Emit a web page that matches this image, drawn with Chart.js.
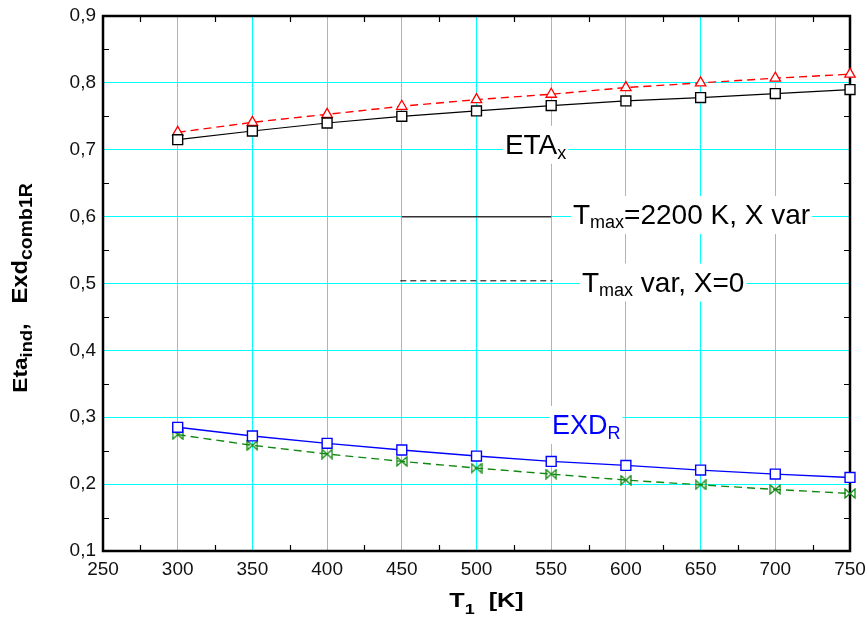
<!DOCTYPE html>
<html lang="en">
<head>
    <meta charset="utf-8">
    <title>Eta / Exd vs T1</title>
    <style>
      * { margin: 0; padding: 0; }
      body { background: #fff; }
      .chartBox { width: 865px; height: 617px; }
    </style>
</head>
<body>
    <div class="chartBox">
      <canvas id="etaChart" width="865" height="617"></canvas>
    </div>
    <script src="https://cdn.jsdelivr.net/npm/chart.js/dist/chart.umd.min.js"></script>
    <script>
        // T1 [K] values and the four curves
        const t1Values = [300, 350, 400, 450, 500, 550, 600, 650, 700, 750];
        const etaXvar = [0.715, 0.728, 0.740, 0.750, 0.758, 0.766, 0.773, 0.778, 0.784, 0.790];
        const etaTvar = [0.726, 0.741, 0.753, 0.765, 0.775, 0.783, 0.793, 0.800, 0.807, 0.813];
        const exdXvar = [0.285, 0.272, 0.261, 0.251, 0.242, 0.234, 0.228, 0.221, 0.215, 0.210];
        const exdTvar = [0.274, 0.258, 0.245, 0.234, 0.224, 0.215, 0.206, 0.199, 0.192, 0.186];

        const FONT = '"Liberation Sans", Arial, sans-serif';

        function toPoints(ys) {
            return t1Values.map((x, i) => ({ x: x, y: ys[i] }));
        }

        // bowtie marker (⋈) for the green curve
        function bowtie(color) {
            const c = document.createElement('canvas');
            c.width = 12; c.height = 11;
            const g = c.getContext('2d');
            g.strokeStyle = color;
            g.lineWidth = 1.3;
            g.beginPath();
            g.moveTo(1, 1); g.lineTo(11, 10); g.lineTo(11, 1); g.lineTo(1, 10);
            g.closePath();
            g.stroke();
            return c;
        }

        // text with subscripts: parts = [{text, size, dy}]
        function richWidth(ctx, parts, bold, sx) {
            let w = 0;
            parts.forEach(p => {
                ctx.font = (bold ? 'bold ' : '') + p.size + 'px ' + FONT;
                w += ctx.measureText(p.text).width;
            });
            return w * (sx || 1);
        }
        function drawRich(ctx, parts, x, y, color, bold, sx) {
            ctx.save();
            ctx.translate(x, y);
            ctx.scale(sx || 1, 1);
            ctx.fillStyle = color;
            ctx.textAlign = 'left';
            ctx.textBaseline = 'alphabetic';
            let cx = 0;
            parts.forEach(p => {
                ctx.font = (bold ? 'bold ' : '') + p.size + 'px ' + FONT;
                ctx.fillText(p.text, cx, p.dy || 0);
                cx += ctx.measureText(p.text).width;
            });
            ctx.restore();
        }
        function boxedLabel(ctx, parts, x, y, color) {
            const w = richWidth(ctx, parts, false);
            ctx.save();
            ctx.fillStyle = '#fff';
            ctx.fillRect(x - 2, y - 28, w + 4, 38);
            ctx.restore();
            drawRich(ctx, parts, x, y, color, false);
        }

        const decorations = {
            id: 'decorations',
            beforeDatasetsDraw(chart) {
                const ctx = chart.ctx;
                const a = chart.chartArea;
                const xs = chart.scales.x, ys = chart.scales.y;
                const px = v => xs.getPixelForValue(v);
                const py = v => ys.getPixelForValue(v);

                // annotation labels
                boxedLabel(ctx, [{ text: 'ETA', size: 28 }, { text: 'x', size: 18, dy: 5 }], px(519), py(0.694), '#000');
                boxedLabel(ctx, [{ text: 'EXD', size: 27 }, { text: 'R', size: 18, dy: 5 }], px(550.5), py(0.275), '#0000ff');
                boxedLabel(ctx, [{ text: 'T', size: 28 }, { text: 'max', size: 18, dy: 4 }, { text: '=2200 K, X var', size: 28 }], px(564.6), py(0.589), '#000');
                boxedLabel(ctx, [{ text: 'T', size: 28 }, { text: 'max', size: 18, dy: 4 }, { text: ' var, X=0', size: 28 }], px(570.6), py(0.488), '#000');

                // legend lines
                ctx.save();
                ctx.strokeStyle = '#333';
                ctx.lineWidth = 1.5;
                ctx.beginPath();
                ctx.moveTo(px(450), py(0.6)); ctx.lineTo(px(550), py(0.6));
                ctx.stroke();
                ctx.strokeStyle = '#000';
                ctx.lineWidth = 1;
                ctx.setLineDash([6, 4]);
                ctx.beginPath();
                ctx.moveTo(px(449), py(0.504)); ctx.lineTo(px(551), py(0.504));
                ctx.stroke();
                ctx.restore();

                // frame and inner minor ticks
                ctx.save();
                ctx.strokeStyle = '#000';
                ctx.lineWidth = 2.5;
                ctx.strokeRect(a.left, a.top, a.right - a.left, a.bottom - a.top);
                ctx.lineWidth = 1.2;
                ctx.beginPath();
                for (let v = 275; v < 750; v += 50) {
                    const x = Math.round(px(v)) + 0.5;
                    ctx.moveTo(x, a.top); ctx.lineTo(x, a.top + 6);
                    ctx.moveTo(x, a.bottom); ctx.lineTo(x, a.bottom - 6);
                }
                for (let v = 0.15; v < 0.9; v += 0.1) {
                    const y = Math.round(py(v)) + 0.5;
                    ctx.moveTo(a.left, y); ctx.lineTo(a.left + 6, y);
                    ctx.moveTo(a.right, y); ctx.lineTo(a.right - 6, y);
                }
                ctx.stroke();
                ctx.restore();

                // axis titles
                const xt = [{ text: 'T', size: 21 }, { text: '1', size: 15, dy: 7 }, { text: '  [K]', size: 21 }];
                drawRich(ctx, xt, (a.left + a.right) / 2 + 10 - richWidth(ctx, xt, true, 1.2) / 2, 607, '#000', true, 1.2);

                const yt = [{ text: 'Eta', size: 21 }, { text: 'ind', size: 17, dy: 5 }, { text: ',   Exd', size: 22 }, { text: 'comb1R', size: 18, dy: 5 }];
                ctx.save();
                ctx.translate(27, 288);
                ctx.rotate(-Math.PI / 2);
                const yw = richWidth(ctx, yt, true, 1.08);
                drawRich(ctx, yt, -yw / 2, 0, '#000', true, 1.08);
                ctx.restore();
            }
        };

        const ctx = document.getElementById('etaChart').getContext('2d');
        new Chart(ctx, {
            type: 'line',
            data: {
                datasets: [{
                    label: 'ETA, Tmax=2200 K, X var',
                    data: toPoints(etaXvar),
                    borderColor: '#000',
                    borderWidth: 1.2,
                    pointStyle: 'rect',
                    pointRadius: 7,
                    pointBorderWidth: 1.4,
                    pointBackgroundColor: '#fff',
                    pointBorderColor: '#000'
                }, {
                    label: 'ETA, Tmax var, X=0',
                    data: toPoints(etaTvar),
                    borderColor: '#ff0000',
                    borderWidth: 1.4,
                    borderDash: [8, 5],
                    pointStyle: 'triangle',
                    pointRadius: 6,
                    pointBorderWidth: 1.3,
                    pointBackgroundColor: '#fff',
                    pointBorderColor: '#ff0000'
                }, {
                    label: 'EXD, Tmax=2200 K, X var',
                    data: toPoints(exdXvar),
                    borderColor: '#0000ff',
                    borderWidth: 1.4,
                    pointStyle: 'rect',
                    pointRadius: 7,
                    pointBorderWidth: 1.4,
                    pointBackgroundColor: '#fff',
                    pointBorderColor: '#0000ff'
                }, {
                    label: 'EXD, Tmax var, X=0',
                    data: toPoints(exdTvar),
                    borderColor: '#118811',
                    borderWidth: 1.4,
                    borderDash: [8, 5],
                    pointStyle: bowtie('#118811'),
                    pointRadius: 6
                }]
            },
            options: {
                responsive: false,
                animation: false,
                clip: false,
                layout: { padding: { top: 16, right: 15, left: 0, bottom: 0 } },
                plugins: {
                    legend: { display: false },
                    tooltip: { enabled: false }
                },
                scales: {
                    x: {
                        type: 'linear',
                        min: 250,
                        max: 750,
                        ticks: {
                            stepSize: 50,
                            padding: 7,
                            color: '#111',
                            font: { family: FONT, size: 19 },
                            maxRotation: 0
                        },
                        grid: { color: '#00ffff', lineWidth: 1, drawTicks: false },
                        border: { display: false },
                        afterFit: s => { s.height = 66; s.paddingLeft = 0; s.paddingRight = 0; }
                    },
                    y: {
                        min: 0.1,
                        max: 0.9,
                        ticks: {
                            stepSize: 0.1,
                            padding: 7,
                            color: '#111',
                            font: { family: FONT, size: 19 },
                            callback: v => v.toFixed(1).replace('.', ',')
                        },
                        grid: { color: '#00ffff', lineWidth: 1, drawTicks: false },
                        border: { display: false },
                        afterFit: s => { s.width = 103; s.paddingTop = 0; s.paddingBottom = 0; }
                    }
                }
            },
            plugins: [decorations]
        });
    </script>
</body>
</html>
